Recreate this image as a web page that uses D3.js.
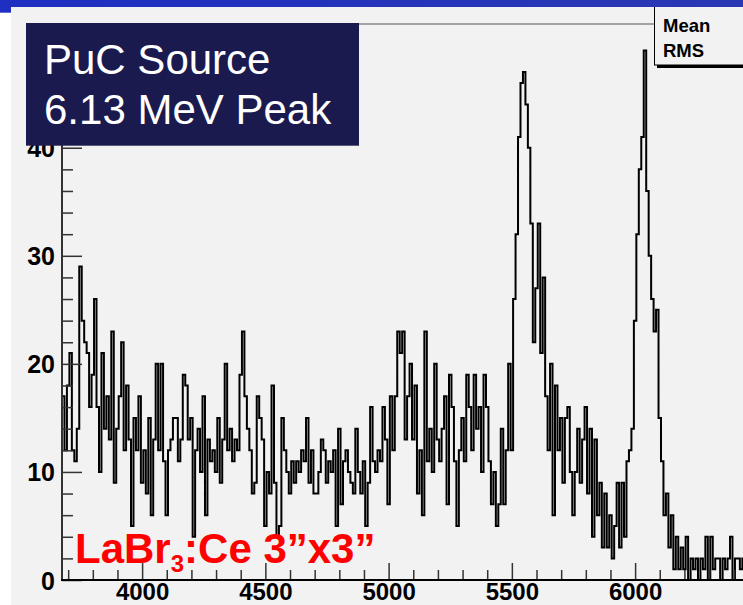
<!DOCTYPE html>
<html>
<head>
<meta charset="utf-8">
<script src="https://cdn.jsdelivr.net/npm/d3@7"></script>
<style>
  html, body { margin: 0; padding: 0; background: #ffffff; }
  svg { display: block; }
  text { font-family: "Liberation Sans", Arial, Helvetica, sans-serif; }
</style>
</head>
<body>
<svg id="chart" width="743" height="605"></svg>
<script>
// Energy spectrum, 10 keV bins starting at 3675 keV
const binStart = 3675;
const binWidth = 10;
const counts = [
  17, 12, 18, 21, 12, 11, 14, 29, 24, 22,
  21, 16, 19, 26, 16, 10, 21, 14, 17, 13,
  23, 9, 14, 17, 22, 12, 18, 13, 5, 15,
  12, 17, 9, 12, 8, 15, 6, 13, 20, 12,
  20, 11, 6, 12, 13, 15, 15, 11, 13, 19,
  18, 13, 15, 4, 12, 14, 10, 17, 6, 13,
  11, 12, 10, 15, 9, 13, 20, 12, 14, 11,
  13, 12, 19, 23, 17, 14, 12, 8, 9, 17,
  15, 13, 5, 10, 8, 18, 9, 4, 5, 15,
  12, 10, 8, 11, 9, 11, 10, 12, 11, 15,
  9, 12, 8, 8, 10, 13, 12, 9, 11, 10,
  12, 5, 14, 7, 11, 12, 10, 9, 8, 14,
  10, 8, 11, 5, 9, 16, 11, 10, 12, 11,
  16, 13, 7, 17, 12, 17, 23, 21, 23, 13,
  17, 20, 13, 18, 8, 12, 6, 23, 11, 14,
  10, 20, 13, 11, 14, 17, 7, 19, 16, 11,
  5, 12, 15, 11, 19, 16, 12, 19, 14, 16,
  10, 19, 16, 11, 7, 10, 5, 7, 14, 7,
  12, 20, 12, 26, 32, 41, 46, 47, 44, 40,
  33, 22, 27, 33, 21, 28, 17, 12, 20, 6,
  18, 12, 15, 9, 15, 16, 10, 6, 10, 14,
  9, 13, 16, 8, 14, 4, 13, 6, 9, 3,
  8, 3, 6, 2, 5, 9, 3, 9, 4, 11,
  12, 14, 24, 32, 38, 41, 49, 36, 30, 26,
  23, 25, 15, 11, 6, 8, 3, 6, 1, 4,
  1, 3, 1, 4, 0, 2, 1, 2, 0, 2,
  1, 4, 0, 4, 1, 2, 2, 0, 2, 1,
  2, 4, 0, 2, 2, 1, 2
];
const xMajorTicks = [4000, 4500, 5000, 5500, 6000];
const xMinorTicks = d3.range(3700, 6500, 100);
const yMajorTicks = [0, 10, 20, 30, 40];
const yMinorTicks = d3.range(0, 52, 2);
const titleLines = ["PuC Source", "6.13 MeV Peak"];
const statLabels = ["Mean", "RMS"];

const svg = d3.select("#chart");

// frame geometry
const frameLeft = 62, frameTop = 24, frameBottom = 580, frameRight = 800;

const x = d3.scaleLinear().domain([3675, 6440]).range([62, 62 + 2765 * 0.2465]);
const y = d3.scaleLinear().domain([0, 51.45]).range([frameBottom, frameTop]);

// page background and header band
const defs = svg.append("defs");
const grad = defs.append("linearGradient").attr("id", "band").attr("x1", 0).attr("x2", 1);
grad.append("stop").attr("offset", 0).attr("stop-color", "#1e2fc2");
grad.append("stop").attr("offset", 1).attr("stop-color", "#2b38b4");

svg.append("rect").attr("x", 0).attr("y", 0).attr("width", 743).attr("height", 605).attr("fill", "#ffffff");
svg.append("rect").attr("x", 11).attr("y", 7).attr("width", 732).attr("height", 598).attr("fill", "#f2f2f2");

defs.append("clipPath").attr("id", "plotClip")
  .append("rect").attr("x", frameLeft).attr("y", frameTop)
  .attr("width", frameRight - frameLeft).attr("height", frameBottom - frameTop);

// frame top edge
svg.append("line").attr("x1", frameLeft).attr("x2", frameRight)
  .attr("y1", frameTop).attr("y2", frameTop)
  .attr("stroke", "#555").attr("stroke-width", 1.2);

// histogram outline
const pts = counts.map((c, i) => [binStart + i * binWidth, c]);
pts.push([binStart + counts.length * binWidth, counts[counts.length - 1]]);
const stepLine = d3.line()
  .x(d => x(d[0]))
  .y(d => y(d[1]))
  .curve(d3.curveStepAfter);
svg.append("path")
  .attr("clip-path", "url(#plotClip)")
  .attr("d", stepLine(pts))
  .attr("fill", "none")
  .attr("stroke", "#000")
  .attr("stroke-width", 2)
  .attr("stroke-linejoin", "miter");

// y axis: minor then major ticks drawn inside the frame
const yMinor = svg.append("g").attr("transform", `translate(${frameLeft},0)`)
  .call(d3.axisRight(y).tickValues(yMinorTicks.filter(v => yMajorTicks.indexOf(v) < 0)).tickSize(11).tickFormat(""));
const yMajor = svg.append("g").attr("transform", `translate(${frameLeft},0)`)
  .call(d3.axisRight(y).tickValues(yMajorTicks).tickSize(20).tickFormat(d3.format("d")));
[yMinor, yMajor].forEach(g => {
  g.select(".domain").remove();
  g.selectAll(".tick line").attr("stroke", "#333").attr("stroke-width", 1.5);
});
yMajor.selectAll(".tick text")
  .attr("x", -7).attr("dy", "0.36em")
  .attr("text-anchor", "end")
  .attr("font-size", 25).attr("font-weight", "bold").attr("fill", "#000")
  .attr("font-family", "'Liberation Sans', Arial, sans-serif");

svg.append("line").attr("x1", frameLeft).attr("x2", frameLeft)
  .attr("y1", frameTop).attr("y2", frameBottom + 1)
  .attr("stroke", "#333").attr("stroke-width", 2);

// x axis
const xMinor = svg.append("g").attr("transform", `translate(0,${frameBottom})`)
  .call(d3.axisTop(x).tickValues(xMinorTicks.filter(v => xMajorTicks.indexOf(v) < 0)).tickSize(10).tickFormat(""));
const xMajor = svg.append("g").attr("transform", `translate(0,${frameBottom})`)
  .call(d3.axisTop(x).tickValues(xMajorTicks).tickSize(17).tickFormat(d3.format("d")));
[xMinor, xMajor].forEach(g => {
  g.select(".domain").remove();
  g.selectAll(".tick line").attr("stroke", "#333").attr("stroke-width", 1.5);
});
xMajor.selectAll(".tick text")
  .attr("y", 20).attr("dy", 0)
  .attr("text-anchor", "middle")
  .attr("font-size", 24).attr("font-weight", "bold").attr("fill", "#000")
  .attr("font-family", "'Liberation Sans', Arial, sans-serif");

svg.append("line").attr("x1", frameLeft - 1).attr("x2", frameRight)
  .attr("y1", frameBottom).attr("y2", frameBottom)
  .attr("stroke", "#000").attr("stroke-width", 2);

// detector label
const det = svg.append("text").attr("x", 75).attr("y", 563)
  .attr("fill", "#ff0000").attr("font-weight", "bold").attr("font-size", 42);
det.append("tspan").text("LaBr");
det.append("tspan").attr("font-size", 24).attr("dy", 9).text("3");
det.append("tspan").attr("dy", -9).text(":Ce 3”x3”");

// statistics box with drop shadow
svg.append("rect").attr("x", 657).attr("y", 5).attr("width", 120).attr("height", 63).attr("fill", "#000");
svg.append("rect").attr("x", 654.5).attr("y", 2).attr("width", 120).attr("height", 63)
  .attr("fill", "#f2f2f2").attr("stroke", "#000").attr("stroke-width", 1);
svg.selectAll("text.stat").data(statLabels).enter().append("text")
  .attr("class", "stat")
  .attr("x", 663).attr("y", (d, i) => 32 + i * 25)
  .attr("font-size", 18.5).attr("font-weight", "bold").attr("fill", "#000")
  .text(d => d);

// header band, drawn over the stats box top edge
svg.append("rect").attr("x", 0).attr("y", 0).attr("width", 743).attr("height", 7).attr("fill", "url(#band)");
svg.append("rect").attr("x", 0).attr("y", 0).attr("width", 11).attr("height", 12.7).attr("fill", "#1e2fc2");

// title box
svg.append("rect").attr("x", 26).attr("y", 23).attr("width", 333).attr("height", 122.7).attr("fill", "#1b1a4f");
svg.selectAll("text.title").data(titleLines).enter().append("text")
  .attr("class", "title")
  .attr("x", 44).attr("y", (d, i) => 74 + i * 50)
  .attr("font-size", 42).attr("fill", "#ffffff")
  .text(d => d);
</script>
</body>
</html>
